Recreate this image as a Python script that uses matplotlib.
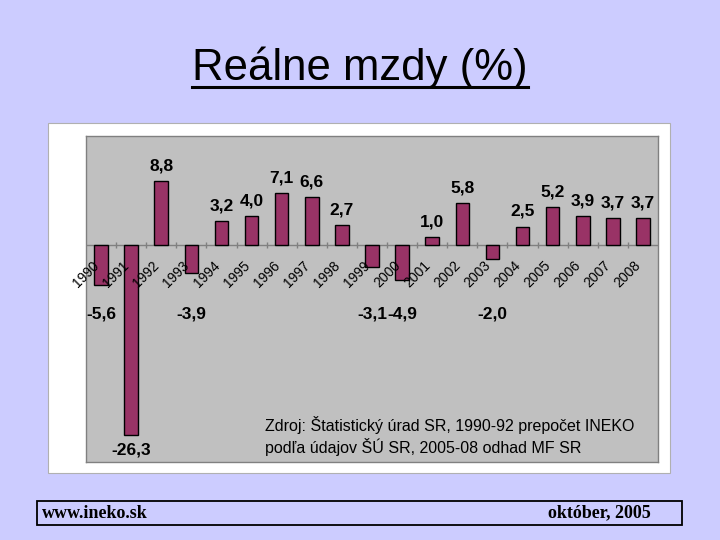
import numpy as np
import matplotlib
matplotlib.use("Agg")
import matplotlib.pyplot as plt
from matplotlib.patches import Rectangle
from matplotlib.lines import Line2D

# === DATA ===
years = [str(y) for y in range(1990, 2009)]
wages = [-5.6, -26.3, 8.8, -3.9, 3.2, 4.0, 7.1, 6.6, 2.7, -3.1,
         -4.9, 1.0, 5.8, -2.0, 2.5, 5.2, 3.9, 3.7, 3.7]
title = "Reálne mzdy (%)"
source = ("Zdroj: Štatistický úrad SR, 1990-92 prepočet INEKO\n"
          "podľa údajov ŠÚ SR, 2005-08 odhad MF SR")
footer_left = "www.ineko.sk"
footer_right = "október, 2005"

# === STYLE ===
BG = "#CCCCFF"
PLOT_BG = "#C0C0C0"
BAR = "#993366"
SANS = ["Liberation Sans", "DejaVu Sans"]
SERIF = ["Liberation Serif", "DejaVu Serif"]

fig = plt.figure(figsize=(7.2, 5.4), dpi=100, facecolor=BG)

# white chart area
fig.patches.append(Rectangle((48 / 720, 1 - 473 / 540), 622 / 720, 350 / 540,
                             transform=fig.transFigure, facecolor="white",
                             edgecolor="#B0B0B0", linewidth=0.8, zorder=-1))

ax = fig.add_axes([86 / 720, 1 - 462 / 540, 572 / 720, 326 / 540])
ax.set_zorder(2)
ax.set_facecolor(PLOT_BG)
for s in ax.spines.values():
    s.set_color("#808080")
    s.set_linewidth(1.0)

x = np.arange(len(years))
ax.bar(x, wages, width=0.45, color=BAR, edgecolor="black", linewidth=1.0, zorder=3)
ax.axhline(0, color="#808080", linewidth=1.0, zorder=2)
ax.vlines(x[:-1] + 0.5, -0.4, 0.4, color="#808080", linewidth=1.0, zorder=2)
ax.set_xlim(-0.5, len(years) - 0.5)
ax.set_ylim(-30, 15)
ax.set_xticks([])
ax.set_yticks([])

# category labels along the zero line
for i, yr in enumerate(years):
    ax.text(i - 0.3, -1.9, yr, rotation=45, ha="right", va="top",
            rotation_mode="anchor", fontsize=10, family=SANS, zorder=4)

# value labels
for i, v in enumerate(wages):
    lab = f"{v:.1f}".replace(".", ",")
    if v >= 0:
        ax.annotate(lab, (i, v), xytext=(0, 5.5), textcoords="offset points",
                    ha="center", va="bottom", fontsize=12.5, fontweight="bold",
                    family=SANS, zorder=4)
    else:
        ax.text(i, min(v, -7.5) - 2.1, lab, ha="center", va="center",
                fontsize=12.5, fontweight="bold", family=SANS, zorder=4)

src = fig.text(265 / 720, 1 - 436 / 540, source, ha="left", va="center",
               fontsize=11.5, family=SANS, linespacing=1.2)
src.set_zorder(5)

# title with underline
t = fig.text(0.5, 1 - 80 / 540, title, ha="center", va="baseline",
             fontsize=31.5, family=SANS)
fig.canvas.draw()
bb = t.get_window_extent().transformed(fig.transFigure.inverted())
fig.lines.append(Line2D([bb.x0, bb.x1], [1 - 87 / 540] * 2, transform=fig.transFigure,
                        color="black", linewidth=2.2))

# footer box
fig.patches.append(Rectangle((37 / 720, 1 - 525 / 540), 645 / 720, 24 / 540,
                             transform=fig.transFigure, facecolor="none",
                             edgecolor="black", linewidth=1.3))
fig.text(42 / 720, 1 - 513 / 540, footer_left, ha="left", va="center",
         fontsize=13, fontweight="bold", family=SERIF)
fig.text(651 / 720, 1 - 513 / 540, footer_right, ha="right", va="center",
         fontsize=13, fontweight="bold", family=SERIF)

fig.savefig("out.png", dpi=100, facecolor=BG)
